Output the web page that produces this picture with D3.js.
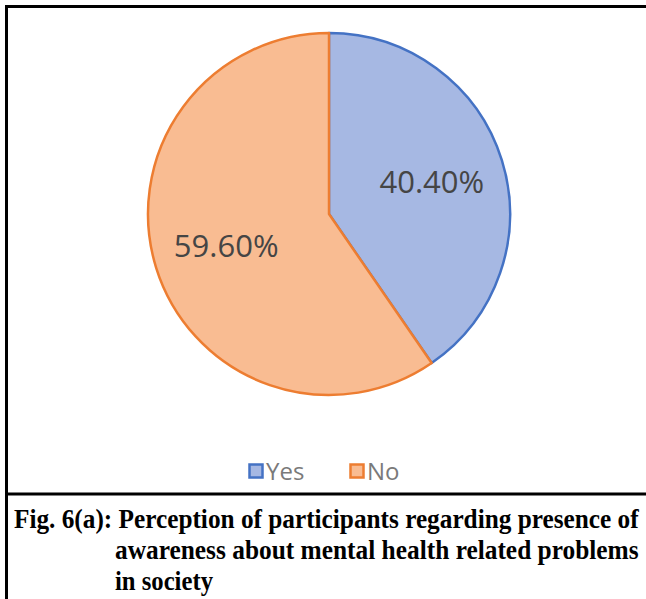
<!DOCTYPE html>
<html>
<head>
<meta charset="utf-8">
<script src="https://cdn.jsdelivr.net/npm/d3@7/dist/d3.min.js"></script>
<style>
  html, body { margin: 0; padding: 0; background: #fff; }
  svg { display: block; }
</style>
</head>
<body>
<svg id="chart" width="646" height="599"></svg>
<script>
// Survey answers and their shares (%)
const categories = ["Yes", "No"];
const shares = [40.4, 59.6];
const labels = ["40.40%", "59.60%"];
const captionLines = [
  "Fig. 6(a): Perception of participants regarding presence of",
  "awareness about mental health related problems",
  "in society"
];

const W = 646, H = 599;
const svg = d3.select("#chart");

const fillColor = d3.scaleOrdinal().domain(categories).range(["#a6b8e3", "#f9bc92"]);
const strokeColor = d3.scaleOrdinal().domain(categories).range(["#4472c4", "#ed7d31"]);

// Frame: top and left rules plus separator above the caption
const frame = svg.append("g").attr("stroke", "#000").attr("stroke-width", 3);
frame.append("line").attr("x1", 5).attr("x2", W).attr("y1", 6.5).attr("y2", 6.5);
frame.append("line").attr("x1", 6.5).attr("x2", 6.5).attr("y1", 5).attr("y2", H);
frame.append("line").attr("x1", 5).attr("x2", W).attr("y1", 494).attr("y2", 494);

// Pie
const cx = 329, cy = 214, r = 181;
const data = categories.map((c, i) => ({ cat: c, value: shares[i], label: labels[i] }));
const pie = d3.pie().sort(null).value(d => d.value);
const arcs = pie(data);
const arc = d3.arc().innerRadius(0).outerRadius(r);
const labelArc = d3.arc().innerRadius(r * 0.595).outerRadius(r * 0.595);

const g = svg.append("g").attr("transform", `translate(${cx},${cy})`);
g.selectAll("path.slice")
  .data(arcs)
  .join("path")
  .attr("class", "slice")
  .attr("d", arc)
  .attr("fill", d => fillColor(d.data.cat))
  .attr("stroke", d => strokeColor(d.data.cat))
  .attr("stroke-width", 2.5)
  .attr("stroke-linejoin", "round");

g.selectAll("text.pct")
  .data(arcs)
  .join("text")
  .attr("class", "pct")
  .attr("transform", d => `translate(${labelArc.centroid(d)})`)
  .attr("text-anchor", "middle")
  .attr("dy", "0.36em")
  .attr("font-family", "'Open Sans', sans-serif")
  .attr("font-size", 31)
  .attr("fill", "#454545")
  .text(d => d.data.label);

// Legend
const legend = svg.append("g").attr("transform", "translate(248,471)");
const legendX = d3.scaleOrdinal().domain(categories).range([0, 101]);
const item = legend.selectAll("g.item")
  .data(categories)
  .join("g")
  .attr("class", "item")
  .attr("transform", d => `translate(${legendX(d)},0)`);
item.append("rect")
  .attr("x", 1.5).attr("y", -6.5).attr("width", 13).attr("height", 13)
  .attr("fill", d => fillColor(d))
  .attr("stroke", d => strokeColor(d))
  .attr("stroke-width", 2.5);
item.append("text")
  .attr("x", 18)
  .attr("dy", "0.36em")
  .attr("font-family", "'Open Sans', sans-serif")
  .attr("font-size", 24)
  .attr("fill", "#7a7a7a")
  .text(d => d);

// Caption: condensed bold serif, each line squeezed horizontally to its width
const cap = svg.append("g")
  .attr("font-family", "'Liberation Serif', 'Times New Roman', serif")
  .attr("font-weight", "bold")
  .attr("font-size", 27)
  .attr("fill", "#000");
const capPos = [
  { x: 14, y: 528, len: 625 },
  { x: 115, y: 559, len: 524 },
  { x: 115, y: 590, len: 98 }
];
captionLines.forEach((t, i) => {
  const p = capPos[i];
  const lineG = cap.append("g").attr("transform", `translate(${p.x},${p.y})`);
  const tx = lineG.append("text").attr("x", 0).attr("y", 0).text(t);
  const natural = tx.node().getComputedTextLength();
  tx.attr("transform", `scale(${p.len / natural},1)`);
});
</script>
</body>
</html>
